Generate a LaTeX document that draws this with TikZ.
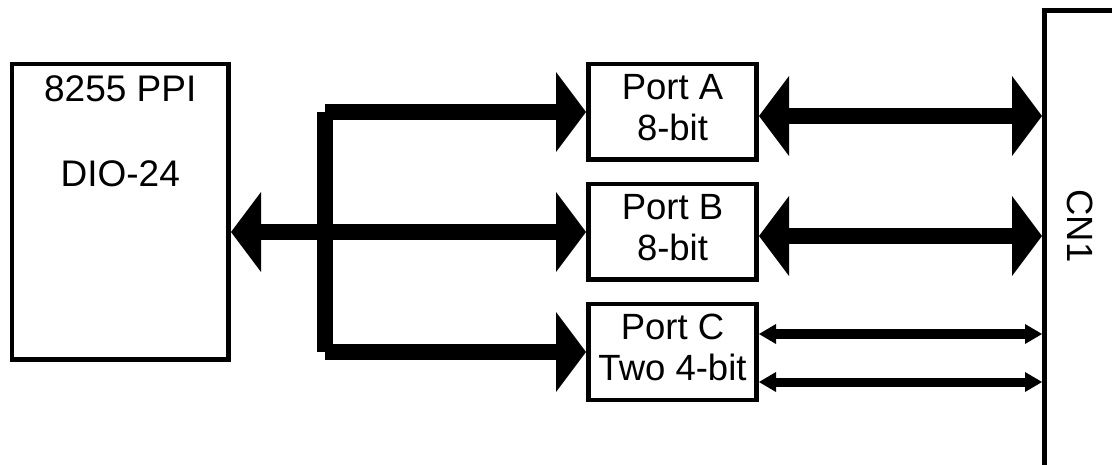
\documentclass[tikz,border=0pt]{standalone}
\usepackage{fontspec}
\setmainfont{Liberation Sans}
\usetikzlibrary{arrows.meta}
\begin{document}
\begin{tikzpicture}[x=1pt,y=-1pt,
  txt/.style={font=\fontsize{36.5}{41.5}\selectfont, inner sep=0pt},
  box/.style={draw, line width=4.8pt, outer sep=2.4pt, inner sep=0pt, txt, align=center},
  portbox/.style={box, minimum width=168.2pt, minimum height=95.8pt,
                  text height=68pt, text depth=10pt},
  bus/.style={line width=16pt, line cap=butt},
  wire/.style={line width=9pt, line cap=butt},
  bigtip/.tip={Triangle[length=30pt, width=80pt, line width=0pt]},
  smalltip/.tip={Triangle[length=17pt, width=20pt, line width=0pt]}]
  \useasboundingbox (0,0) rectangle (1112,465);
  \fill[white] (0,0) rectangle (1112,465);
  \clip (0,0) rectangle (1112,465);

  % 8255 chip
  \node[box, minimum width=216.7pt, minimum height=295.5pt] (ppi) at (120.25,211.85) {};
  \node[txt, font=\fontsize{37}{42}\selectfont, anchor=base] (ppiname) at ([yshift=-40pt]ppi.north) {8255 PPI};
  \node[txt, font=\fontsize{37}{42}\selectfont, anchor=base] (ppiboard) at ([yshift=-125pt]ppi.north) {DIO-24};

  % the three ports
  \node[portbox] (portA) at (672.5,112) {Port A\\8-bit};
  \node[portbox] (portB) at (672.5,232) {Port B\\8-bit};
  \node[portbox] (portC) at (672.5,352) {Port C\\Two 4-bit};

  % connector, running off the right and bottom edges
  \node[box, line width=5pt, outer sep=2.5pt, minimum width=85.5pt, minimum height=456pt]
    (cn1) at (1087.25,239) {};
  \node[txt, rotate=-90] (cn1label) at (1080,226) {CN1};

  % internal data bus
  \coordinate (jA) at (324.5,112);
  \coordinate (jC) at (324.5,352);
  \draw[bus] (jA) -- (jC);
  \draw[bus, -bigtip] (jA) -- (portA.west);
  \draw[bus, -bigtip] (jC) -- (portC.west);
  \draw[bus, bigtip-bigtip] (ppi.east |- portB.west) -- (portB.west);

  % port lines to the connector
  \draw[bus, bigtip-bigtip] ([yshift=-4pt]portA.east) -- ([yshift=-4pt]portA.east -| cn1.west);
  \draw[bus, bigtip-bigtip] ([yshift=-4pt]portB.east) -- ([yshift=-4pt]portB.east -| cn1.west);
  \draw[wire, smalltip-smalltip] ([yshift=18pt]portC.east) -- ([yshift=18pt]portC.east -| cn1.west);
  \draw[wire, smalltip-smalltip] ([yshift=-30pt]portC.east) -- ([yshift=-30pt]portC.east -| cn1.west);
\end{tikzpicture}
\end{document}
